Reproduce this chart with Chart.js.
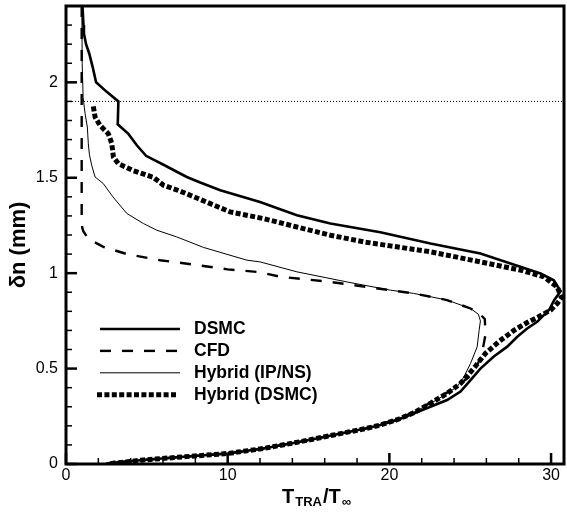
<!DOCTYPE html>
<html>
<head>
<meta charset="utf-8">
<script src="https://cdn.jsdelivr.net/npm/chart.js@4/dist/chart.umd.min.js"></script>
<style>
  body { margin: 0; background: #fff; }
  canvas { display: block; }
</style>
</head>
<body>
<canvas id="profile" width="567" height="514"></canvas>
<script>
// translational temperature ratio (T_TRA/T_inf) vs distance from wall (mm)
const dsmcT = [1.02, 1.08, 1.11, 1.24, 1.44, 1.65, 1.86, 2.52, 3.24, 3.2, 3.86, 4.38, 4.95, 6.03, 7.47, 8.3, 9.54, 12.0, 14.28, 16.35, 19.44, 22.54, 25.63, 27.49, 29.35, 30.17, 30.59, 30.2, 29.9, 29.14, 28.52, 27.91, 27.29, 26.46, 25.63, 25.02, 24.4, 23.57, 22.54, 21.5, 20.48, 19.44, 18.6, 16.55, 14.49, 12.2, 10.0, 6.85, 4.79, 2.7, 2.5];
const dsmcN = [2.40, 2.30, 2.255, 2.2, 2.15, 2.08, 2.0, 1.95, 1.9, 1.78, 1.73, 1.67, 1.615, 1.568, 1.504, 1.475, 1.435, 1.373, 1.304, 1.26, 1.214, 1.155, 1.103, 1.051, 0.998, 0.963, 0.905, 0.86, 0.81, 0.745, 0.71, 0.667, 0.615, 0.563, 0.5, 0.44, 0.38, 0.335, 0.3, 0.265, 0.23, 0.204, 0.187, 0.152, 0.117, 0.081, 0.055, 0.035, 0.021, 0.005, 0];

const cfdT = [0.97, 0.97, 1.0, 1.07, 1.38, 2.31, 3.76, 5.82, 7.88, 10.0, 12.01, 13.25, 16.35, 18.41, 20.06, 21.5, 23.57, 25.02, 25.6, 25.9, 25.95, 25.75, 25.5, 25.0, 24.19, 23.4, 22.3, 21.1, 19.9, 18.6, 16.55, 14.49, 12.2, 10.0, 6.85, 4.79, 2.7, 2.5];
const cfdN = [2.40, 1.30, 1.24, 1.22, 1.18, 1.138, 1.10, 1.068, 1.045, 1.02, 1.005, 0.981, 0.954, 0.93, 0.911, 0.894, 0.859, 0.815, 0.785, 0.76, 0.68, 0.59, 0.53, 0.46, 0.41, 0.365, 0.31, 0.257, 0.22, 0.187, 0.152, 0.117, 0.081, 0.055, 0.035, 0.021, 0.005, 0];

const ipnsT = [0.98, 1.0, 1.06, 1.18, 1.32, 1.38, 1.45, 1.59, 1.8, 2.3, 2.9, 3.76, 4.79, 5.62, 6.85, 8.5, 11.19, 12.01, 14.28, 17.38, 20.06, 21.5, 23.57, 25.02, 25.5, 25.63, 25.55, 25.43, 25.02, 24.61, 24.19, 23.4, 22.4, 21.2, 19.9, 18.6, 16.55, 14.49, 12.2, 10.0, 6.85, 4.79, 2.7, 2.6];
const ipnsN = [2.40, 2.1, 1.92, 1.836, 1.766, 1.679, 1.62, 1.565, 1.504, 1.47, 1.40, 1.313, 1.26, 1.225, 1.19, 1.135, 1.068, 1.059, 1.007, 0.954, 0.911, 0.894, 0.859, 0.815, 0.785, 0.75, 0.70, 0.614, 0.527, 0.457, 0.405, 0.36, 0.31, 0.258, 0.22, 0.187, 0.152, 0.117, 0.081, 0.055, 0.035, 0.021, 0.005, 0];

const hybT = [1.69, 1.80, 2.1, 2.62, 2.83, 2.93, 3.24, 4.17, 5.41, 6.03, 7.06, 8.2, 10.15, 12.22, 14.28, 16.35, 18.41, 20.06, 22.54, 25.63, 28.11, 29.55, 30.38, 30.65, 30.38, 29.97, 29.2, 28.5, 27.7, 26.8, 25.95, 25.3, 24.8, 24.4, 23.57, 22.54, 21.5, 20.48, 19.44, 18.6, 16.55, 14.49, 12.2, 10.0, 6.85, 4.79, 3.0, 2.7];
const hybN = [1.874, 1.818, 1.775, 1.73, 1.68, 1.609, 1.574, 1.537, 1.502, 1.461, 1.43, 1.39, 1.321, 1.286, 1.242, 1.199, 1.164, 1.143, 1.112, 1.059, 1.016, 0.981, 0.928, 0.872, 0.841, 0.806, 0.77, 0.74, 0.70, 0.643, 0.58, 0.51, 0.46, 0.422, 0.37, 0.318, 0.268, 0.232, 0.204, 0.187, 0.152, 0.117, 0.081, 0.055, 0.035, 0.021, 0.005, 0];

// DSMC / continuum interface
const interfaceN = 1.9;

const xMax = 30.8, yMax = 2.4;
const xTickLabels = [0, 10, 20, 30];
const yTickLabels = [0, 0.5, 1, 1.5, 2];
const xMinorStep = 2, yMinorStep = 0.1;

const FONT = "'Liberation Sans', Arial, Helvetica, sans-serif";

const pts = (xs, ys) => xs.map((v, i) => ({ x: v, y: ys[i] }));
const steps = (max, step) => {
  const out = [];
  for (let i = 0; i * step <= max + 1e-9; i++) out.push(Math.round(i * step * 100) / 100);
  return out;
};
const isLabel = (list, v) => list.some(l => Math.abs(l - v) < 1e-6);

// inward ticks + box frame
const frame = {
  id: 'frame',
  afterDatasetsDraw(chart) {
    const { ctx, chartArea: a, scales: { x, y } } = chart;
    ctx.save();
    ctx.strokeStyle = '#000';
    x.ticks.forEach(t => {
      const major = isLabel(xTickLabels, t.value);
      const px = x.getPixelForValue(t.value);
      ctx.lineWidth = major ? 2.5 : 1.5;
      ctx.beginPath();
      ctx.moveTo(px, a.bottom);
      ctx.lineTo(px, a.bottom - (major ? 11 : 6));
      ctx.stroke();
    });
    y.ticks.forEach(t => {
      const major = isLabel(yTickLabels, t.value);
      const py = y.getPixelForValue(t.value);
      ctx.lineWidth = major ? 2.5 : 1.5;
      ctx.beginPath();
      ctx.moveTo(a.left, py);
      ctx.lineTo(a.left + (major ? 11 : 6), py);
      ctx.stroke();
    });
    ctx.lineWidth = 3;
    ctx.strokeRect(a.left, a.top, a.right - a.left, a.bottom - a.top);
    ctx.restore();
  }
};

// legend inside the plot and the axis titles
const annotate = {
  id: 'annotate',
  afterDraw(chart) {
    const { ctx, chartArea: a } = chart;
    ctx.save();
    ctx.fillStyle = '#000';
    ctx.strokeStyle = '#000';

    const rows = chart.data.datasets.filter(d => d.label);
    rows.forEach((d, i) => {
      const ly = a.top + 323 + i * 21.9;
      const off = d.borderDash.length && d.borderWidth > 3 ? -3 : 0;
      ctx.lineWidth = d.borderWidth;
      ctx.setLineDash(d.borderDash);
      ctx.beginPath();
      ctx.moveTo(a.left + 34 + off, ly);
      ctx.lineTo(a.left + 114 + off, ly);
      ctx.stroke();
      ctx.setLineDash([]);
      ctx.font = 'bold 17.5px ' + FONT;
      ctx.textBaseline = 'middle';
      ctx.textAlign = 'left';
      ctx.fillText(d.label, a.left + 128, ly + 0.5);
    });

    // x title: T_TRA / T_inf
    const parts = [
      ['T', 20, 0], ['TRA', 13, 3.5], ['/T', 20, 0], ['\u221E', 13, 3.5]
    ];
    let w = 0;
    parts.forEach(p => { ctx.font = 'bold ' + p[1] + 'px ' + FONT; w += ctx.measureText(p[0]).width; });
    let tx = (a.left + a.right) / 2 - w / 2;
    ctx.textBaseline = 'alphabetic';
    ctx.textAlign = 'left';
    parts.forEach(p => {
      ctx.font = 'bold ' + p[1] + 'px ' + FONT;
      ctx.fillText(p[0], tx, 502.5 + p[2]);
      tx += ctx.measureText(p[0]).width + 1;
    });

    // y title
    ctx.translate(19, 245);
    ctx.rotate(-Math.PI / 2);
    ctx.font = 'bold 22px ' + FONT;
    ctx.textAlign = 'center';
    ctx.textBaseline = 'middle';
    ctx.fillText('\u03B4n (mm)', 0, 0);
    ctx.restore();
  }
};

const line = (label, xs, ys, width, dash) => ({
  label,
  data: pts(xs, ys),
  showLine: true,
  borderColor: '#000',
  backgroundColor: '#000',
  borderWidth: width,
  borderDash: dash,
  pointRadius: 0,
  tension: 0,
  fill: false
});

new Chart(document.getElementById('profile'), {
  type: 'scatter',
  data: {
    datasets: [
      line('DSMC', dsmcT, dsmcN, 2.6, []),
      line('CFD', cfdT, cfdN, 2.4, [11, 11]),
      line('Hybrid (IP/NS)', ipnsT, ipnsN, 1, []),
      line('Hybrid (DSMC)', hybT, hybN, 5, [5, 2.4]),
      line('', [0, xMax], [interfaceN, interfaceN], 1, [1, 2])
    ]
  },
  options: {
    responsive: false,
    animation: false,
    devicePixelRatio: 1,
    layout: { padding: { top: 6, right: 3, left: 0, bottom: 0 } },
    plugins: { legend: { display: false }, tooltip: { enabled: false } },
    scales: {
      x: {
        type: 'linear',
        min: 0,
        max: xMax,
        border: { display: false },
        grid: { display: false, drawTicks: false },
        afterBuildTicks: s => { s.ticks = steps(30, xMinorStep).map(v => ({ value: v })); },
        afterFit: s => { s.height = 50; s.paddingLeft = 0; s.paddingRight = 0; },
        ticks: {
          autoSkip: false,
          maxRotation: 0,
          padding: 2,
          color: '#000',
          font: { family: FONT, size: 16 },
          callback: v => isLabel(xTickLabels, v) ? String(Math.round(v)) : ''
        }
      },
      y: {
        type: 'linear',
        min: 0,
        max: yMax,
        border: { display: false },
        grid: { display: false, drawTicks: false },
        afterBuildTicks: s => { s.ticks = steps(yMax, yMinorStep).map(v => ({ value: v })); },
        afterFit: s => { s.width = 66; s.paddingTop = 0; s.paddingBottom = 0; },
        ticks: {
          autoSkip: false,
          padding: 8,
          color: '#000',
          font: { family: FONT, size: 16 },
          callback: v => isLabel(yTickLabels, v) ? String(Math.round(v * 10) / 10) : ''
        }
      }
    }
  },
  plugins: [frame, annotate]
});
</script>
</body>
</html>
